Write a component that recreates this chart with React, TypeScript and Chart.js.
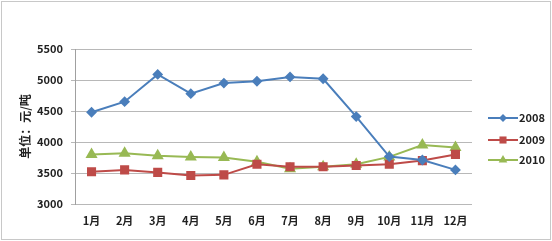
import React, { useEffect, useRef } from "react";
import { Chart, registerables } from "chart.js";

Chart.register(...registerables);

const months = ["1月", "2月", "3月", "4月", "5月", "6月", "7月", "8月", "9月", "10月", "11月", "12月"];
const s2008 = [4480, 4650, 5090, 4780, 4950, 4980, 5050, 5020, 4410, 3765, 3710, 3550];
const s2009 = [3520, 3550, 3510, 3460, 3470, 3640, 3600, 3600, 3620, 3640, 3700, 3800];
const s2010 = [3800, 3820, 3780, 3760, 3750, 3680, 3570, 3600, 3640, 3760, 3950, 3910];
const yTicks = [3000, 3500, 4000, 4500, 5000, 5500];
const yTitle = "单位：元/吨";

const FONT = "'Noto Sans CJK SC', 'DejaVu Sans', sans-serif";

function marker(ctx: CanvasRenderingContext2D, style: string, r: number, x: number, y: number) {
  ctx.beginPath();
  if (style === "rectRot") {
    ctx.moveTo(x, y - r);
    ctx.lineTo(x + r, y);
    ctx.lineTo(x, y + r);
    ctx.lineTo(x - r, y);
  } else if (style === "rect") {
    const s = r / Math.SQRT2;
    ctx.rect(x - s, y - s, 2 * s, 2 * s);
  } else {
    const h = r * 1.5;
    const w = r * Math.sqrt(3);
    ctx.moveTo(x, y - r);
    ctx.lineTo(x + w / 2, y - r + h);
    ctx.lineTo(x - w / 2, y - r + h);
  }
  ctx.closePath();
  ctx.fill();
}

const legendPlugin = {
  id: "sideLegend",
  afterDraw(chart: any) {
    const ctx = chart.ctx;
    const ys = [118, 140, 160];
    chart.data.datasets.forEach((ds: any, i: number) => {
      const y = ys[i];
      const x0 = 488, x1 = 518;
      ctx.save();
      ctx.strokeStyle = ds.borderColor;
      ctx.lineWidth = 2;
      ctx.beginPath();
      ctx.moveTo(x0, y);
      ctx.lineTo(x1, y);
      ctx.stroke();
      ctx.fillStyle = ds.borderColor;
      marker(ctx, ds.pointStyle, ds.pointRadius, (x0 + x1) / 2, y);
      ctx.fillStyle = "#222";
      ctx.font = "bold 11px " + FONT;
      ctx.textBaseline = "middle";
      ctx.textAlign = "left";
      ctx.fillText(ds.label, x1 + 1, y);
      ctx.restore();
    });
    ctx.save();
    ctx.strokeStyle = "#c8c8c8";
    ctx.lineWidth = 1;
    ctx.strokeRect(1.5, 1.5, chart.width - 3, chart.height - 3);
    ctx.restore();
  },
};

export default function App() {
  const ref = useRef<HTMLCanvasElement | null>(null);
  useEffect(() => {
    document.body.style.margin = "0";
    const mk = (label: string, data: number[], color: string, ps: string, r: number) => ({
      label,
      data,
      borderColor: color,
      backgroundColor: color,
      pointBackgroundColor: color,
      pointBorderColor: color,
      pointStyle: ps,
      pointRadius: r,
      borderWidth: 2,
      tension: 0,
    });
    const chart = new Chart(ref.current!, {
      type: "line",
      data: {
        labels: months,
        datasets: [
          mk("2008", s2008, "#4A7EBB", "rectRot", 4),
          mk("2009", s2009, "#BE4B48", "rect", 5),
          mk("2010", s2010, "#98B954", "triangle", 5),
        ],
      },
      options: {
        animation: false,
        responsive: false,
        layout: { padding: { left: 0, right: 80, top: 49, bottom: 0 } },
        plugins: { legend: { display: false }, tooltip: { enabled: false } },
        scales: {
          x: {
            offset: true,
            grid: { display: false, drawTicks: false },
            border: { display: false },
            ticks: { color: "#222", font: { family: FONT, size: 11, weight: "bold" }, padding: 10, maxRotation: 0 },
            afterFit: (s: any) => { s.height = 37; },
          },
          y: {
            min: 3000,
            max: 5500,
            afterBuildTicks: (s: any) => { s.ticks = yTicks.map((v) => ({ value: v })); },
            grid: { color: "#b8b8b8", drawTicks: true, tickLength: 4 },
            border: { display: true, color: "#a0a0a0" },
            ticks: { color: "#222", font: { family: FONT, size: 11, weight: "bold" }, padding: 8, callback: (v: any) => String(v) },
            title: { display: true, text: yTitle, color: "#222", font: { family: FONT, size: 12, weight: "bold" }, padding: { top: 18, bottom: 0 } },
            afterFit: (s: any) => { s.width = 75; },
          },
        },
      },
      plugins: [legendPlugin],
    });
    return () => chart.destroy();
  }, []);
  return (
    <div style={{ width: 552, height: 241, background: "#fff" }}>
      <canvas ref={ref} width={552} height={241} />
    </div>
  );
}
